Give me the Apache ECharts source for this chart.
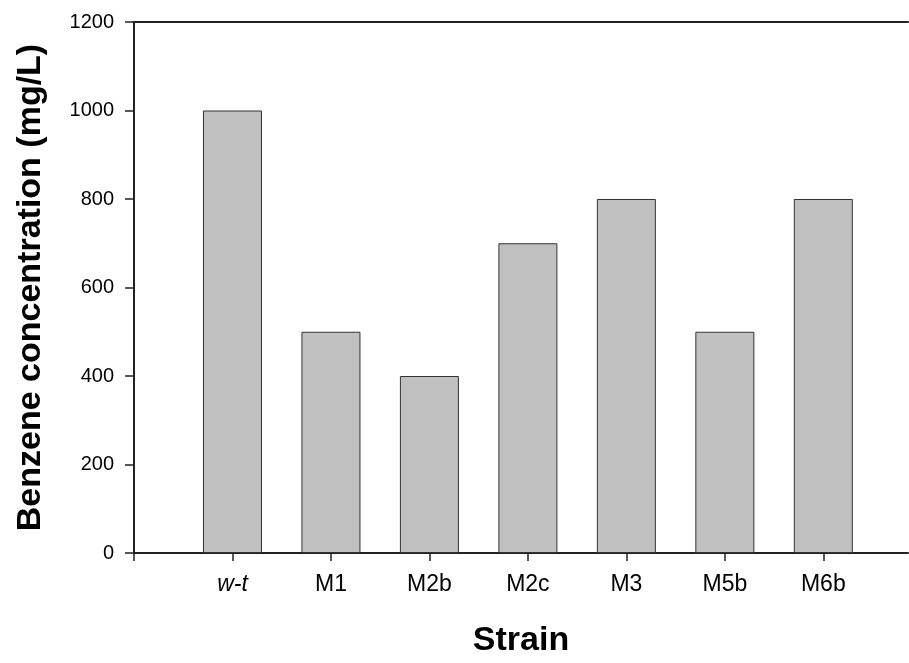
<!DOCTYPE html>
<html>
<head>
<meta charset="utf-8">
<script src="https://cdn.jsdelivr.net/npm/echarts@6/dist/echarts.min.js"></script>
<style>
html,body{margin:0;padding:0;background:#fff;overflow:hidden;}
#chart{width:909px;height:663px;}
</style>
</head>
<body>
<div id="chart"></div>
<script>
const categories = ['w-t', 'M1', 'M2b', 'M2c', 'M3', 'M5b', 'M6b'];
const concentrations = [1000, 500, 400, 700, 800, 500, 800];
const yTicks = [0, 200, 400, 600, 800, 1000, 1200];

const FONT = "'Liberation Sans', Arial, sans-serif";
const barData = categories.map((c, i) => [i + 1, concentrations[i]]);
const catPositions = categories.map((c, i) => i + 1);

const chart = echarts.init(document.getElementById('chart'));
chart.setOption({
  animation: false,
  backgroundColor: '#fff',
  grid: { left: 134, top: 22, right: 1, bottom: 103, containLabel: false },
  xAxis: [{
    type: 'value',
    min: 0,
    max: 7.86,
    interval: 1,
    splitLine: { show: false },
    axisLine: { show: true, onZero: false, lineStyle: { color: '#222', width: 2 } },
    axisTick: { show: true, inside: false, length: 8, lineStyle: { color: '#222', width: 1.5 },
      customValues: [0].concat(catPositions) },
    axisLabel: {
      customValues: catPositions,
      margin: 20,
      fontFamily: FONT, fontSize: 23, color: '#000',
      formatter: function (v) {
        const idx = Math.round(v) - 1;
        if (idx < 0 || idx >= categories.length) return '';
        return idx === 0 ? '{it|' + categories[idx] + '}' : categories[idx];
      },
      rich: { it: { fontStyle: 'italic', fontFamily: FONT, fontSize: 23, color: '#000' } }
    },
    name: 'Strain',
    nameLocation: 'middle',
    nameGap: 71,
    nameTextStyle: { fontFamily: FONT, fontSize: 34, fontWeight: 'bold', color: '#000' }
  }, {
    type: 'value',
    position: 'top',
    min: 0,
    max: 7.86,
    splitLine: { show: false },
    axisLine: { show: true, onZero: false, lineStyle: { color: '#222', width: 2 } },
    axisTick: { show: false },
    axisLabel: { show: false }
  }],
  yAxis: {
    type: 'value',
    min: yTicks[0],
    max: yTicks[yTicks.length - 1],
    interval: 200,
    splitLine: { show: false },
    axisLine: { show: true, lineStyle: { color: '#222', width: 2 } },
    axisTick: { show: true, inside: false, length: 9, lineStyle: { color: '#222', width: 1.5 } },
    axisLabel: { margin: 20, fontFamily: FONT, fontSize: 20, color: '#000',
      formatter: function (v) { return String(v); } },
    name: 'Benzene concentration (mg/L)',
    nameLocation: 'middle',
    nameRotate: 90,
    nameGap: 86,
    nameTextStyle: { fontFamily: FONT, fontSize: 34, fontWeight: 'bold', color: '#000' }
  },
  series: [{
    type: 'bar',
    xAxisIndex: 0,
    data: barData,
    barWidth: 59,
    itemStyle: { color: '#c0c0c0', borderColor: '#333', borderWidth: 1 }
  }]
});
</script>
</body>
</html>
